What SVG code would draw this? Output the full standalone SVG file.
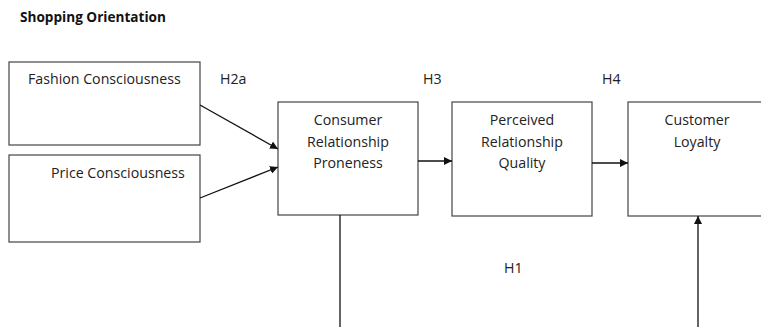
<svg xmlns="http://www.w3.org/2000/svg" width="761" height="327" viewBox="0 0 761 327">
<style>
text{font-family:"Open Sans","Liberation Sans",sans-serif;font-size:14.2px;fill:#222}
.t{font-weight:bold;font-size:13.6px;fill:#111}
.box{fill:#fff;stroke:#444;stroke-width:1.2}
.c{fill:none;stroke:#111;stroke-width:1.3}
.m{text-anchor:middle}
</style>
<defs>
<marker id="ah" viewBox="0 0 10 10" refX="10" refY="5" markerWidth="8" markerHeight="8" markerUnits="userSpaceOnUse" orient="auto">
<path d="M0,0 L10,5 L0,10 z" fill="#111"/>
</marker>
</defs>
<rect width="761" height="327" fill="#fff"/>
<text class="t" x="20" y="22">Shopping Orientation</text>
<g id="fashion"><rect class="box" x="9" y="62" width="191" height="83"/><text x="28" y="84">Fashion Consciousness</text></g>
<g id="price"><rect class="box" x="9" y="155" width="191" height="87"/><text x="51" y="178">Price Consciousness</text></g>
<g id="crp"><rect class="box" x="278" y="102" width="140" height="113"/><text class="m" x="348" y="125">Consumer</text><text class="m" x="348" y="147">Relationship</text><text class="m" x="348" y="168">Proneness</text></g>
<g id="prq"><rect class="box" x="452" y="102" width="140" height="114"/><text class="m" x="522" y="125">Perceived</text><text class="m" x="522" y="147">Relationship</text><text class="m" x="522" y="168">Quality</text></g>
<g id="loyalty"><rect class="box" x="628" y="102" width="150" height="114"/><text class="m" x="697" y="125">Customer</text><text class="m" x="697" y="147">Loyalty</text></g>
<g id="labels"><text x="220" y="84">H2a</text><text x="423" y="84">H3</text><text x="602" y="84">H4</text><text x="504" y="273">H1</text></g>
<g id="connectors">
<line class="c" x1="200" y1="105" x2="278" y2="149" marker-end="url(#ah)"/>
<line class="c" x1="200" y1="198" x2="278" y2="167" marker-end="url(#ah)"/>
<line class="c" x1="418" y1="161" x2="452" y2="161" marker-end="url(#ah)"/>
<line class="c" x1="592" y1="163" x2="628" y2="163" marker-end="url(#ah)"/>
<line class="c" x1="340" y1="215" x2="340" y2="327"/>
<line class="c" x1="698" y1="327" x2="698" y2="216" marker-end="url(#ah)"/>
</g>
</svg>
